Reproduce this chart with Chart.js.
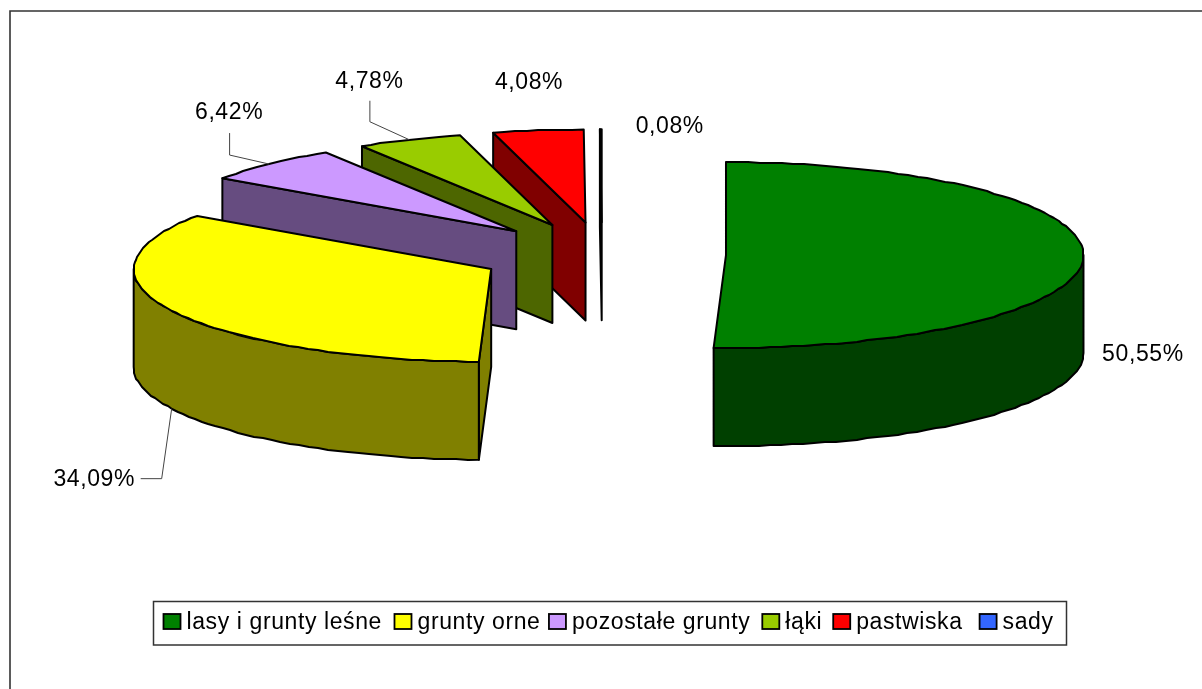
<!DOCTYPE html>
<html>
<head>
<meta charset="utf-8">
<style>html,body{margin:0;padding:0;background:#fff}canvas{display:block}</style>
<script src="https://cdn.jsdelivr.net/npm/chart.js@4"></script>
</head>
<body>
<canvas id="c" width="1202" height="689"></canvas>
<script>
const categories = ['lasy i grunty leśne', 'grunty orne', 'pozostałe grunty', 'łąki', 'pastwiska', 'sady'];
const shares = [50.55, 34.09, 6.42, 4.78, 4.08, 0.08];
const shareLabels = ['50,55%', '34,09%', '6,42%', '4,78%', '4,08%', '0,08%'];
const topColors = ['#008000', '#FFFF00', '#CC99FF', '#99CC00', '#FF0000', '#3366FF'];
const wallColors = ['#004000', '#808000', '#664C80', '#4D6600', '#800000', '#1A3380'];

// 3D projection
const TILT = 0.26, DEPTH = 98, EXPLODE = 124, RADIUS = 357.5;
// label offset from the slice rim mid-point: [dx, dy, leader knee dx, leader knee dy, leader end dx, leader end dy]
const labelPlace = [
  [59.5, 0], [-77.5, 71, -10, 70, -31, 70], [-40, -51, -39.5, -9, -39.5, -31],
  [-40, -58, -39.5, -18, -39.5, -39], [-9, -48], [69, -2.5]
];
const legendGaps = [12.5, 8.5, 12, 11, 17, 0];
const FONT = '23px "Liberation Sans", Arial, sans-serif';
const SPACING = '0.6px';

function geom(arc) {
  const p = arc.getProps(['x', 'y', 'startAngle', 'endAngle', 'outerRadius']);
  const mid = (p.startAngle + p.endAngle) / 2;
  const ax = p.x + Math.cos(mid) * EXPLODE, ay = p.y + Math.sin(mid) * EXPLODE * TILT;
  const pt = a => [ax + Math.cos(a) * p.outerRadius, ay + Math.sin(a) * p.outerRadius * TILT];
  return {...p, mid, ax, ay, pt};
}
function rim(g, a0, a1) {
  const pts = [], n = Math.max(1, Math.round((a1 - a0) / (1.8 * Math.PI / 180)));
  for (let i = 0; i <= n; i++) {
    const q = g.pt(a0 + (a1 - a0) * i / n);
    pts.push(i === 0 || i === n ? q : [Math.round(q[0]), Math.round(q[1])]);
  }
  return pts;
}
function poly(ctx, pts, fill) {
  ctx.beginPath();
  pts.forEach((q, i) => i ? ctx.lineTo(q[0], q[1]) : ctx.moveTo(q[0], q[1]));
  ctx.closePath();
  if (fill) { ctx.fillStyle = fill; ctx.fill(); }
  ctx.stroke();
}
function face(ctx, g, a, fill) {
  const o = g.pt(a);
  poly(ctx, [[g.ax, g.ay], o, [o[0], o[1] + DEPTH], [g.ax, g.ay + DEPTH]], fill);
}

const pie3d = {
  id: 'pie3d',
  beforeDatasetDraw(chart, args) {
    const ctx = chart.ctx, arcs = chart.getDatasetMeta(args.index).data;
    ctx.save();
    ctx.strokeStyle = '#000'; ctx.lineWidth = 2; ctx.lineJoin = 'round';
    for (let i = arcs.length - 1; i >= 0; i--) {
      const g = geom(arcs[i]);
      if (Math.cos(g.startAngle) < -1e-6) face(ctx, g, g.startAngle, wallColors[i]);
      if (Math.cos(g.endAngle) > 1e-6) face(ctx, g, g.endAngle, wallColors[i]);
      const a0 = Math.max(g.startAngle, 0), a1 = Math.min(g.endAngle, Math.PI);
      if (a1 > a0) {
        const r = rim(g, a0, a1);
        poly(ctx, r.concat(r.slice().reverse().map(q => [q[0], q[1] + DEPTH])), wallColors[i]);
      }
    }
    arcs.forEach((arc, i) => {
      const g = geom(arc);
      ctx.save();
      ctx.translate(g.ax, g.ay);
      ctx.scale(1, TILT);
      ctx.translate(-g.x, -g.y);
      arc.draw(ctx);
      ctx.restore();
    });
    arcs.forEach(arc => {
      const g = geom(arc);
      poly(ctx, [[g.ax, g.ay]].concat(rim(g, g.startAngle, g.endAngle)));
    });
    ctx.restore();
    return false;
  },
  afterDraw(chart) {
    const ctx = chart.ctx, arcs = chart.getDatasetMeta(0).data;
    ctx.save();
    // frame (top and left only; the picture is cropped on the others)
    ctx.strokeStyle = '#333'; ctx.lineWidth = 1.6;
    ctx.beginPath(); ctx.moveTo(10, 689); ctx.lineTo(10, 11); ctx.lineTo(1202, 11); ctx.stroke();

    ctx.font = FONT; ctx.letterSpacing = SPACING; ctx.fillStyle = '#000';
    arcs.forEach((arc, i) => {
      const g = geom(arc), q = g.pt(g.mid), pl = labelPlace[i];
      const bx = q[0], by = q[1] + (Math.sin(g.mid) > 0.3 ? DEPTH : 0) + (i === 0 ? DEPTH : 0);
      if (pl.length > 2) {
        ctx.strokeStyle = '#444'; ctx.lineWidth = 1;
        ctx.beginPath(); ctx.moveTo(bx, by);
        ctx.lineTo(bx + pl[2], by + pl[3]); ctx.lineTo(bx + pl[4], by + pl[5]); ctx.stroke();
      }
      ctx.textAlign = 'center'; ctx.textBaseline = 'middle';
      ctx.fillText(shareLabels[i], bx + pl[0], by + pl[1]);
    });

    // legend
    ctx.strokeStyle = '#333'; ctx.lineWidth = 1.5;
    ctx.strokeRect(153.5, 601.5, 913, 43.5);
    ctx.textAlign = 'left'; ctx.textBaseline = 'alphabetic';
    let x = 163.5;
    categories.forEach((name, i) => {
      ctx.fillStyle = topColors[i]; ctx.fillRect(x, 614, 17, 15);
      ctx.strokeStyle = '#000'; ctx.lineWidth = 1.8; ctx.strokeRect(x, 614, 17, 15);
      ctx.fillStyle = '#000';
      ctx.fillText(name, x + 23, 629);
      x += 23 + ctx.measureText(name).width + legendGaps[i];
    });
    ctx.restore();
  }
};

new Chart(document.getElementById('c'), {
  type: 'pie',
  data: {
    labels: categories,
    datasets: [{
      data: shares,
      backgroundColor: topColors,
      borderWidth: 0,
      radius: RADIUS,
      clip: false
    }]
  },
  options: {
    responsive: false,
    animation: false,
    events: [],
    layout: { padding: { left: 2, right: 0, top: 0, bottom: 180 } },
    plugins: { legend: { display: false }, tooltip: { enabled: false }, title: { display: false } }
  },
  plugins: [pie3d]
});
</script>
</body>
</html>
